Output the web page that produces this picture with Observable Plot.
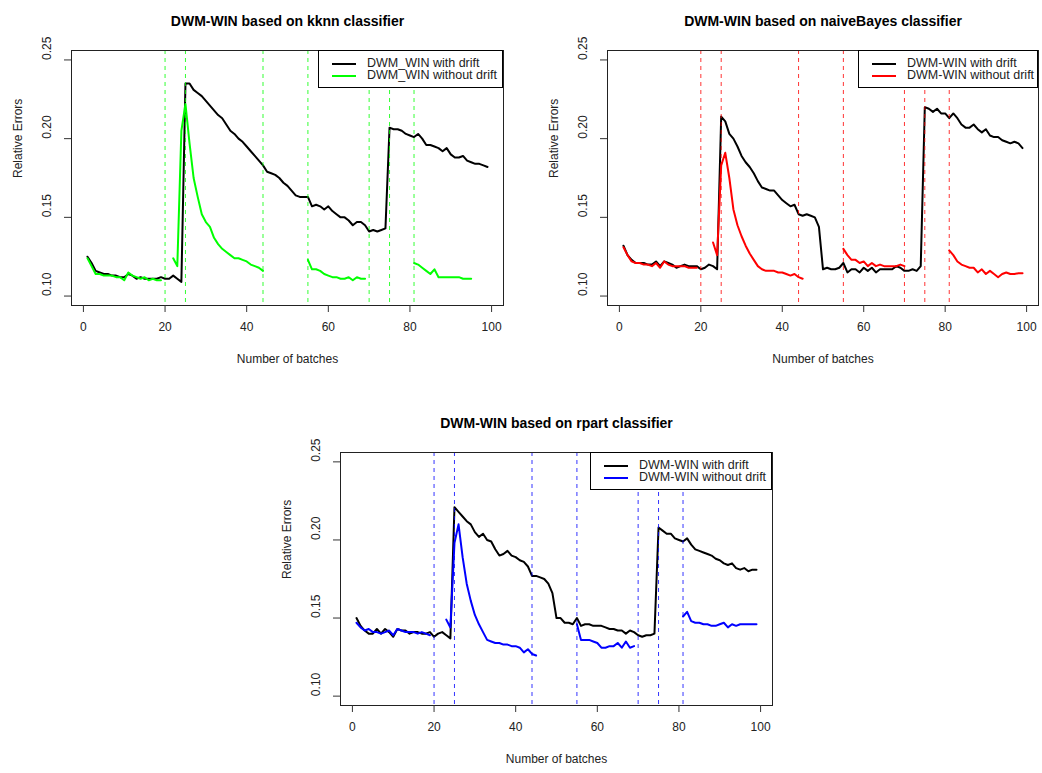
<!DOCTYPE html>
<html>
<head>
<meta charset="utf-8">
<script src="https://cdn.jsdelivr.net/npm/d3@7"></script>
<script src="https://cdn.jsdelivr.net/npm/@observablehq/plot@0.6"></script>
<style>
  html, body { margin: 0; padding: 0; background: #fff; }
  #wrap { position: relative; width: 1042px; height: 773px; background: #fff; overflow: hidden;
          font-family: "Liberation Sans", Arial, sans-serif; }
  .panel { position: absolute; }
  .legend { position: absolute; box-sizing: border-box; border: 1px solid #000; background: #fff; }
  .legend svg { position: absolute; left: 0; top: 0; }
  .legend span { position: absolute; font-size: 12.5px; line-height: 12px; white-space: nowrap; color: #222; }
</style>
</head>
<body>
<div id="wrap"></div>
<script>
// ---------- data ----------
const batches = d3.range(1, 100);
const driftPoints = [20, 25, 44, 55, 70, 75, 81];
const xTicks = [0, 20, 40, 60, 80, 100];
const yTicks = [0.10, 0.15, 0.20, 0.25];

const kknnWithDrift = [
  0.125,0.121,0.116,0.115,0.114,0.114,0.113,0.113,0.112,0.112,
  0.114,0.113,0.111,0.112,0.111,0.111,0.111,0.111,0.112,0.111,
  0.111,0.113,0.111,0.109,0.235,0.235,0.231,0.229,0.227,0.224,
  0.221,0.218,0.215,0.213,0.209,0.205,0.203,0.200,0.198,0.195,
  0.192,0.189,0.186,0.183,0.179,0.178,0.177,0.175,0.172,0.170,
  0.167,0.164,0.163,0.163,0.163,0.157,0.158,0.157,0.155,0.157,
  0.154,0.152,0.150,0.150,0.148,0.145,0.147,0.147,0.145,0.141,
  0.142,0.141,0.142,0.143,0.207,0.206,0.206,0.205,0.203,0.202,
  0.201,0.203,0.200,0.196,0.196,0.195,0.194,0.192,0.194,0.190,
  0.188,0.188,0.189,0.186,0.185,0.184,0.184,0.183,0.182];
const kknnWithoutDrift = [
  0.124,0.119,0.114,0.114,0.113,0.113,0.113,0.112,0.112,0.110,
  0.115,0.113,0.112,0.111,0.112,0.110,0.111,0.110,0.110,null,
  null,0.124,0.119,0.205,0.222,0.197,0.175,0.163,0.152,0.147,
  0.144,0.137,0.133,0.130,0.128,0.126,0.124,0.124,0.123,0.122,
  0.120,0.119,0.118,0.116,null,null,null,null,null,null,
  null,null,null,null,0.123,0.117,0.117,0.116,0.114,0.113,
  0.112,0.112,0.111,0.111,0.112,0.110,0.112,0.111,0.111,null,
  null,null,null,null,null,null,null,null,null,null,
  0.121,0.120,0.118,0.116,0.114,0.117,0.112,0.112,0.112,0.112,
  0.112,0.112,0.111,0.111,0.111,null,null,null,null];

const nbWithDrift = [
  0.132,0.126,0.123,0.121,0.121,0.121,0.120,0.120,0.122,0.119,
  0.122,0.121,0.120,0.118,0.119,0.120,0.119,0.119,0.119,0.117,
  0.118,0.120,0.119,0.117,0.214,0.211,0.203,0.200,0.195,0.189,
  0.185,0.182,0.178,0.173,0.169,0.168,0.167,0.167,0.164,0.161,
  0.159,0.157,0.158,0.152,0.151,0.152,0.151,0.150,0.144,0.117,
  0.118,0.117,0.117,0.118,0.121,0.115,0.117,0.117,0.115,0.118,
  0.116,0.118,0.115,0.117,0.117,0.117,0.117,0.119,0.118,0.116,
  0.116,0.117,0.116,0.119,0.220,0.219,0.217,0.219,0.216,0.216,
  0.213,0.216,0.213,0.209,0.207,0.207,0.209,0.206,0.204,0.206,
  0.202,0.201,0.201,0.199,0.198,0.197,0.198,0.197,0.194];
const nbWithoutDrift = [
  0.131,0.126,0.122,0.121,0.121,0.120,0.120,0.119,0.121,0.118,
  0.122,0.120,0.119,0.119,0.119,0.119,0.118,0.118,0.118,null,
  null,null,0.134,0.126,0.183,0.191,0.175,0.155,0.145,0.138,
  0.132,0.127,0.123,0.119,0.117,0.116,0.116,0.116,0.115,0.115,
  0.114,0.113,0.114,0.112,0.111,null,null,null,null,null,
  null,null,null,null,0.130,0.126,0.123,0.123,0.121,0.122,
  0.119,0.121,0.119,0.120,0.119,0.119,0.119,0.119,0.120,0.119,
  null,null,null,null,null,null,null,null,null,null,
  0.129,0.126,0.122,0.120,0.119,0.118,0.118,0.115,0.117,0.114,
  0.116,0.114,0.112,0.114,0.115,0.114,0.114,0.1145,0.1145];

const rpartWithDrift = [
  0.150,0.145,0.142,0.140,0.140,0.143,0.140,0.143,0.141,0.138,
  0.143,0.142,0.142,0.140,0.141,0.141,0.140,0.140,0.141,0.138,
  0.140,0.141,0.139,0.137,0.221,0.218,0.215,0.212,0.210,0.205,
  0.202,0.204,0.200,0.199,0.194,0.190,0.191,0.193,0.190,0.189,
  0.187,0.186,0.183,0.177,0.177,0.176,0.175,0.172,0.166,0.150,
  0.150,0.147,0.147,0.146,0.150,0.145,0.146,0.146,0.145,0.145,
  0.145,0.144,0.143,0.143,0.142,0.142,0.140,0.142,0.141,0.139,
  0.138,0.139,0.139,0.140,0.208,0.206,0.204,0.204,0.201,0.200,
  0.199,0.201,0.197,0.194,0.193,0.192,0.191,0.190,0.188,0.187,
  0.185,0.184,0.185,0.182,0.181,0.182,0.180,0.181,0.181];
const rpartWithoutDrift = [
  0.147,0.144,0.142,0.143,0.141,0.141,0.140,0.141,0.142,0.139,
  0.143,0.142,0.141,0.141,0.141,0.140,0.141,0.140,0.139,null,
  null,null,0.149,0.144,0.198,0.210,0.189,0.172,0.161,0.152,
  0.146,0.141,0.136,0.135,0.134,0.134,0.133,0.133,0.132,0.132,
  0.131,0.128,0.130,0.127,0.126,null,null,null,null,null,
  null,null,null,null,0.146,0.136,0.136,0.136,0.135,0.134,
  0.131,0.131,0.132,0.132,0.134,0.131,0.135,0.131,0.132,null,
  null,null,null,null,null,null,null,null,null,null,
  0.151,0.154,0.148,0.147,0.147,0.146,0.146,0.145,0.145,0.146,
  0.147,0.144,0.146,0.145,0.146,0.146,0.146,0.146,0.146];

const panels = [
  { title: "DWM-WIN based on kknn classifier", color: "#00ff00",
    withD: kknnWithDrift, withoutD: kknnWithoutDrift,
    labels: ["DWM_WIN with drift", "DWM_WIN without drift"],
    left: 0, top: 0, width: 521, height: 386, mL: 71, mR: 18, mT: 50, mB: 81,
    legend: { left: 318, top: 50, width: 185, height: 38 } },
  { title: "DWM-WIN based on naiveBayes classifier", color: "#ff0000",
    withD: nbWithDrift, withoutD: nbWithoutDrift,
    labels: ["DWM-WIN with drift", "DWM-WIN without drift"],
    left: 521, top: 0, width: 521, height: 386, mL: 86, mR: 4, mT: 50, mB: 81,
    legend: { left: 858, top: 50, width: 180, height: 38 } },
  { title: "DWM-WIN based on rpart classifier", color: "#0000ff",
    withD: rpartWithDrift, withoutD: rpartWithoutDrift,
    labels: ["DWM-WIN with drift", "DWM-WIN without drift"],
    left: 260, top: 386, width: 521, height: 387, mL: 80, mR: 9, mT: 66, mB: 68,
    legend: { left: 590, top: 452, width: 182, height: 38 } }
];

const xLabel = "Number of batches";
const yLabel = "Relative Errors";

const wrap = document.getElementById("wrap");
const fmt = d3.format(".2f");

for (const p of panels) {
  const rows = batches.map((b, i) => ({ batch: b, withDrift: p.withD[i], withoutDrift: p.withoutD[i] }));
  const chart = Plot.plot({
    width: p.width, height: p.height,
    marginLeft: p.mL, marginRight: p.mR, marginTop: p.mT, marginBottom: p.mB,
    x: { domain: [-2.92, 102.92], axis: null },
    y: { domain: [0.094, 0.256], axis: null },
    style: { fontFamily: "'Liberation Sans', Arial, sans-serif", fontSize: "12px", color: "#222", background: "white", overflow: "visible" },
    marks: [
      Plot.line(rows, { x: "batch", y: "withDrift", stroke: "black", strokeWidth: 2 }),
      Plot.line(rows, { x: "batch", y: "withoutDrift", stroke: p.color, strokeWidth: 2 }),
      Plot.ruleX(driftPoints, { x: d => d, stroke: p.color, strokeWidth: 1, strokeDasharray: "4,4", strokeOpacity: 0.8 }),
      Plot.frame({ stroke: "#222" }),
      Plot.axisX(xTicks, { tickSize: 7, tickFormat: () => "", label: null, stroke: "#333" }),
      Plot.axisY(yTicks, { tickSize: 7, tickFormat: () => "", label: null, stroke: "#333" }),
      Plot.text(xTicks, { x: d => d, frameAnchor: "bottom", dy: 25, text: d => String(d), fontSize: 12, fill: "#222" }),
      Plot.text(yTicks, { y: d => d, frameAnchor: "left", dx: -24, rotate: -90, text: d => fmt(d), fontSize: 12, fill: "#222" }),
      Plot.text([xLabel], { frameAnchor: "bottom", dy: 57, text: d => d, fontSize: 12, fill: "#222" }),
      Plot.text([yLabel], { frameAnchor: "left", dx: -53, rotate: -90, text: d => d, fontSize: 12, fill: "#222" }),
      Plot.text([p.title], { frameAnchor: "top", dy: -34, text: d => d, fontSize: 14, fontWeight: "bold", fill: "#000" })
    ]
  });
  chart.classList.add("panel");
  chart.style.left = p.left + "px";
  chart.style.top = p.top + "px";
  wrap.appendChild(chart);

  // legend
  const lg = document.createElement("div");
  lg.className = "legend";
  lg.style.left = p.legend.left + "px";
  lg.style.top = p.legend.top + "px";
  lg.style.width = p.legend.width + "px";
  lg.style.height = p.legend.height + "px";
  const svg = d3.create("svg").attr("width", p.legend.width).attr("height", p.legend.height);
  [["black", 13], [p.color, 25]].forEach(([c, y]) => {
    svg.append("line").attr("x1", 13).attr("x2", 37).attr("y1", y).attr("y2", y)
      .attr("stroke", c).attr("stroke-width", 2);
  });
  lg.appendChild(svg.node());
  p.labels.forEach((t, i) => {
    const s = document.createElement("span");
    s.textContent = t;
    s.style.left = "48px";
    s.style.top = (i === 0 ? 6 : 18) + "px";
    lg.appendChild(s);
  });
  wrap.appendChild(lg);
}
</script>
</body>
</html>
